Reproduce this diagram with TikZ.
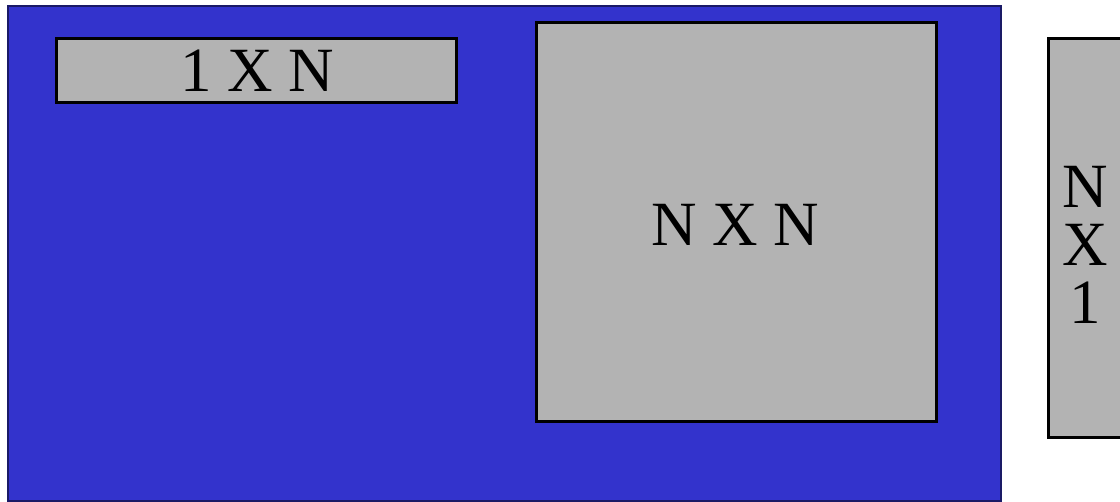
\documentclass[tikz,border=0pt]{standalone}
\usepackage{fontspec}
\setmainfont{Liberation Serif}
\definecolor{bgblue}{HTML}{3333CC}
\definecolor{boxgrey}{HTML}{B3B3B3}
\definecolor{edgeblue}{HTML}{1A1A66}
\begin{document}
\begin{tikzpicture}[x=1pt,y=-1pt,
  matbox/.style={draw=black,line width=3pt,fill=boxgrey},
  lbl/.style={inner sep=0pt,font=\fontsize{63}{58}\selectfont,text=black}]
\useasboundingbox (0,0) rectangle (1120,502);
\clip (0,0) rectangle (1120,502);
\fill[white] (0,0) rectangle (1120,502);
\draw[fill=bgblue,draw=edgeblue,line width=2pt] (7.5,6.5) rectangle (1000.5,501.5);
\draw[matbox] (56,39) rectangle (456,103);
\node[lbl] (rowv) at (257,71) {1 X N};
\draw[matbox] (536,23) rectangle (936,422);
\node[lbl] (mat) at (735,225) {N X N};
\draw[matbox] (1048,38.5) rectangle (1130,438);
\node[lbl,align=center] (colv) at (1085,245) {N\\X\\1};
\end{tikzpicture}
\end{document}
